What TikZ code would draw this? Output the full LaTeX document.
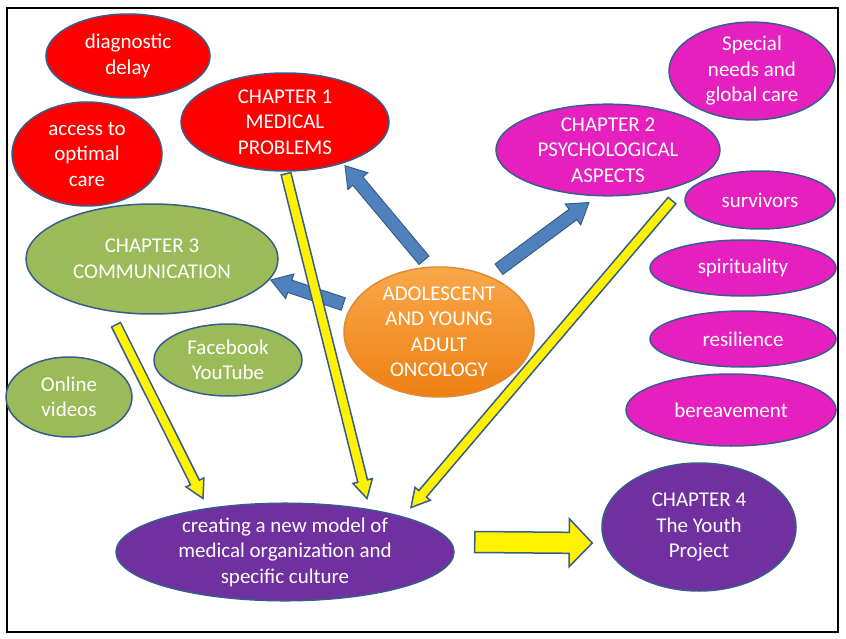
\documentclass[tikz,border=0pt]{standalone}
\usepackage{fontspec}
\setmainfont{Carlito}
\usetikzlibrary{shapes.geometric, calc}
\definecolor{edgeblue}{HTML}{385D8A}
\definecolor{chred}{HTML}{FF0000}
\definecolor{chpink}{HTML}{E620BE}
\definecolor{chgreen}{HTML}{9BBB59}
\definecolor{chpurple}{HTML}{7030A0}
\definecolor{arrowblue}{HTML}{4F81BD}
\definecolor{orangetop}{HTML}{F9A84A}
\definecolor{orangebot}{HTML}{EE8012}
\definecolor{orangeedge}{HTML}{E08A35}
\tikzstyle{bubble} = [ellipse, draw=edgeblue, line width=1.5pt, text=white, align=center, inner sep=0pt, font=\fontsize{21}{25.5}\selectfont]
\tikzstyle{medical} = [bubble, fill=chred]
\tikzstyle{psycho} = [bubble, fill=chpink]
\tikzstyle{commun} = [bubble, fill=chgreen]
\tikzstyle{organize} = [bubble, fill=chpurple]
\tikzstyle{hub} = [bubble, draw=orangeedge, top color=orangetop, bottom color=orangebot]
\tikzstyle{bluearrow} = [fill=arrowblue, draw=edgeblue, line width=1pt]
\tikzstyle{yellowarrow} = [fill=yellow, draw=edgeblue, line width=1.5pt]
% block arrow: style, from, to, shaft half width, head half width, head length
\newcommand{\blockarrow}[6]{
    \coordinate (hb) at ($(#3)!#6!(#2)$);
    \draw[#1] ($(#2)!#4!90:(#3)$) -- ($(hb)!#4!-90:(#2)$) -- ($(hb)!#5!-90:(#2)$) -- (#3)
        -- ($(hb)!#5!90:(#2)$) -- ($(hb)!#4!90:(#2)$) -- ($(#2)!#4!-90:(#3)$) -- cycle;
}

\begin{document}
\begin{tikzpicture}[x=1pt, y=-1pt, node distance=71pt]

        \useasboundingbox (0,0) rectangle (846,639);
        \draw[line width=1.5pt] (7,8) rectangle (838,632);

        \node (core) [hub, minimum width=190pt, minimum height=130pt] at (439,332) {ADOLESCENT\\AND YOUNG\\ADULT\\ONCOLOGY};

        \node (delay) [medical, minimum width=164pt, minimum height=84pt] at (128,56) {diagnostic\\delay};
        \node (access) [medical, minimum width=150pt, minimum height=104pt] at (87,154) {access to\\optimal\\care};
        \node (chone) [medical, minimum width=208pt, minimum height=98pt] at (285,122) {CHAPTER 1\\MEDICAL\\PROBLEMS};

        \node (needs) [psycho, minimum width=166pt, minimum height=84pt] at (752,71) {Special\\needs and\\global care};
        \node (chtwo) [psycho, minimum width=224pt, minimum height=84pt] at (608,150) {CHAPTER 2\\PSYCHOLOGICAL\\ASPECTS};
        \node (survivors) [psycho, minimum width=150pt, minimum height=58pt] at (760,200) {survivors};
        \node (spirit) [psycho, minimum width=186pt, minimum height=56pt, below of=survivors, xshift=-17pt, yshift=3pt] {spirituality};
        \node (resil) [psycho, minimum width=186pt, minimum height=56pt, below of=spirit] {resilience};
        \node (bereave) [psycho, minimum width=210pt, minimum height=72pt, below of=resil, xshift=-12pt] {bereavement};

        \node (chthree) [commun, minimum width=252pt, minimum height=110pt] at (152,259) {CHAPTER 3\\COMMUNICATION};
        \node (social) [commun, minimum width=148pt, minimum height=72pt] at (228,360) {Facebook\\YouTube};
        \node (videos) [commun, minimum width=126pt, minimum height=80pt] at (69,397) {Online\\videos};

        \node (model) [organize, minimum width=338pt, minimum height=86pt] at (285,552) {creating a new model of\\medical organization and\\specific culture};
        \node (chfour) [organize, minimum width=194pt, minimum height=128pt] at (699,527) {CHAPTER 4\\The Youth\\Project};

        % arrow ends
        \coordinate (b1s) at ($(core.north)+(-15,-6)$);
        \coordinate (b1e) at ($(chone.south)+(60,-6)$);
        \coordinate (b2s) at ($(core.north)+(60,3)$);
        \coordinate (b2e) at ($(chtwo.south)+(-19,6)$);
        \coordinate (b3s) at ($(core.west)+(0,-28)$);
        \coordinate (b3e) at ($(chthree.east)+(-8,21)$);
        \coordinate (y1s) at ($(chone.south)+(1,2)$);
        \coordinate (y1e) at ($(model.north)+(82,-4)$);
        \coordinate (y2s) at ($(chtwo.south)+(64,4)$);
        \coordinate (y2e) at ($(model.north)+(126,5)$);
        \coordinate (y3s) at ($(chthree.south)+(-36,10)$);
        \coordinate (y3e) at ($(model.north)+(-82,-4)$);
        \coordinate (y4s) at ($(model.east)+(20,-10)$);
        \coordinate (y4e) at ($(chfour.west)+(-9,16)$);

        \blockarrow{bluearrow}{b1s}{b1e}{6.5pt}{13pt}{20pt}
        \blockarrow{bluearrow}{b2s}{b2e}{6.5pt}{13pt}{20pt}
        \blockarrow{bluearrow}{b3s}{b3e}{6.5pt}{13pt}{20pt}
        \blockarrow{yellowarrow}{y1s}{y1e}{5pt}{10pt}{18pt}
        \blockarrow{yellowarrow}{y2s}{y2e}{5pt}{10pt}{18pt}
        \blockarrow{yellowarrow}{y3s}{y3e}{5pt}{10pt}{18pt}
        \blockarrow{yellowarrow}{y4s}{y4e}{10.5pt}{24pt}{23pt}

    \end{tikzpicture}
\end{document}
